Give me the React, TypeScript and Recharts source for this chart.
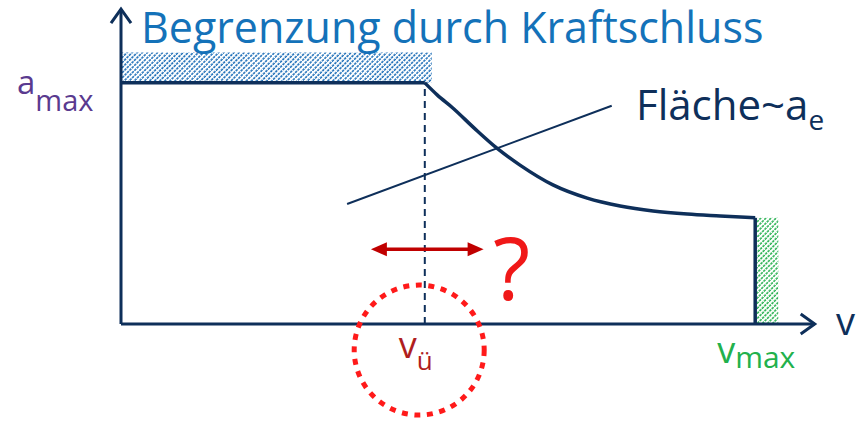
import React from "react";
import {LineChart, Line, XAxis, YAxis, ReferenceArea, ReferenceLine, ReferenceDot} from "recharts";

// flat part at a_max up to v_ü
const flatSpeeds = [0, 43.4];
// falling part from v_ü to v_max
const curveSpeeds = [43.4, 45.2, 47.4, 50.5, 53.7, 57.0, 61.7, 66.6, 71.3, 76.0, 80.9, 85.6, 90.6];
const curveAccels = [76.8, 72.9, 68.8, 62.3, 56.0, 50.6, 44.3, 40.1, 37.6, 36.0, 35.0, 34.4, 33.8];

const vU = 43.4;
const vMax = 90.6;
const aMax = 76.8;
const aEnd = 33.8;
const hatchTop = 86.5;
const hatchRight = 44.4;
const greenRight = 93.9;
const aLineStart = {x: 32.3, y: 38.2};
const aLineEnd = {x: 70.1, y: 69.5};
const arrowFrom = 35.7;
const arrowTo = 51.8;
const arrowLevel = 23.8;
const circleAt = {x: 42.6, y: -8.3};
const xAxisEnd = 99.1;
const yAxisEnd = 100.3;

const xTicks = [vU, vMax];
const yTicks = [aMax];

const flatData = flatSpeeds.map(v => ({v, a: aMax}));
const curveData = curveSpeeds.map((v, i) => ({v, a: curveAccels[i]}));
const dropData = [{v: vMax, a: aEnd}, {v: vMax, a: 0}];

const NAVY = "#0e2f5a";
const FONT = "'Open Sans', sans-serif";

const ArrowAxis = (props: any) => {
    const {x1, y1, x2, y2} = props;
    const horiz = Math.abs(y2 - y1) < 1;
    const arms = horiz
        ? `${x2 - 14},${y2 - 10} ${x2},${y2} ${x2 - 14},${y2 + 10}`
        : `${x2 - 10},${y2 + 14} ${x2},${y2} ${x2 + 10},${y2 + 14}`;
    return (
        <g>
            <line x1={x1} y1={y1} x2={x2} y2={y2} stroke={NAVY} strokeWidth={3}/>
            <polyline points={arms} fill="none" stroke={NAVY} strokeWidth={3}/>
        </g>
    );
};

const DoubleArrow = (props: any) => {
    const {x1, y1, x2} = props;
    const c = "#c00000";
    return (
        <g>
            <line x1={x1 + 12} y1={y1} x2={x2 - 12} y2={y1} stroke={c} strokeWidth={3.5}/>
            <polygon points={`${x1},${y1} ${x1 + 16},${y1 - 7} ${x1 + 16},${y1 + 7}`} fill={c}/>
            <polygon points={`${x2},${y1} ${x2 - 16},${y1 - 7} ${x2 - 16},${y1 + 7}`} fill={c}/>
        </g>
    );
};

const XTick = (props: any) => {
    const {x, y, payload} = props;
    if (payload.value === vMax) {
        return (
            <text x={x - 38} y={y + 39} fontFamily={FONT} fill="#22b14c" fontSize={36}>
                v<tspan fontSize={30} dy={5}>max</tspan>
            </text>
        );
    }
    return (
        <text x={x - 26} y={y + 34} fontFamily={FONT} fill="#b01e1e" fontSize={36}>
            v<tspan fontSize={26} dy={12}>ü</tspan>
        </text>
    );
};

const YTick = (props: any) => {
    const {x, y} = props;
    return (
        <text x={x - 104} y={y + 11} fontFamily={FONT} fill="#5a3a8f" fontSize={33}>
            a<tspan fontSize={29} dy={17}>max</tspan>
        </text>
    );
};

export default function App() {
    return (
        <div style={{position: "absolute", left: 0, top: 0, background: "#fff"}}>
            <LineChart width={859} height={421} margin={{top: 10, right: 38, bottom: 0, left: 0}}>
                <defs>
                    <pattern id="hatchBlue" width="3.6" height="3.4" patternUnits="userSpaceOnUse"
                             patternTransform="rotate(45)">
                        <line x1="1" y1="0" x2="1" y2="3.4" stroke="#1468b4" strokeWidth="1.5" strokeDasharray="2.6 0.8"/>
                    </pattern>
                    <pattern id="hatchGreen" width="3.6" height="3.4" patternUnits="userSpaceOnUse"
                             patternTransform="rotate(45)">
                        <line x1="1" y1="0" x2="1" y2="3.4" stroke="#1fae4a" strokeWidth="1.5" strokeDasharray="2.6 0.8"/>
                    </pattern>
                </defs>
                <XAxis dataKey="v" type="number" domain={[0, 100]} allowDataOverflow ticks={xTicks}
                       axisLine={false} tickLine={false} tickSize={0} tickMargin={0} height={97}
                       tick={<XTick/>} interval={0}/>
                <YAxis dataKey="a" type="number" domain={[0, 100]} allowDataOverflow ticks={yTicks}
                       axisLine={false} tickLine={false} tickSize={0} tickMargin={0} width={121}
                       tick={<YTick/>} interval={0}/>
                <ReferenceArea x1={0} x2={hatchRight} y1={aMax} y2={hatchTop} fill="url(#hatchBlue)"
                               fillOpacity={1} stroke="none" ifOverflow="visible"/>
                <ReferenceArea x1={vMax} x2={greenRight} y1={0} y2={aEnd}
                               fill="url(#hatchGreen)" fillOpacity={1} stroke="none" ifOverflow="visible"/>
                <ReferenceLine segment={[{x: 0, y: 0}, {x: xAxisEnd, y: 0}]} ifOverflow="visible" shape={ArrowAxis}/>
                <ReferenceLine segment={[{x: 0, y: 0}, {x: 0, y: yAxisEnd}]} ifOverflow="visible" shape={ArrowAxis}/>
                <ReferenceLine segment={[{x: vU, y: 0}, {x: vU, y: aMax}]} stroke={NAVY} strokeWidth={2}
                               strokeDasharray="7 5" ifOverflow="visible"/>
                <ReferenceLine segment={[aLineStart, aLineEnd]} stroke={NAVY} strokeWidth={2} ifOverflow="visible"/>
                <ReferenceLine segment={[{x: arrowFrom, y: arrowLevel}, {x: arrowTo, y: arrowLevel}]}
                               ifOverflow="visible" shape={DoubleArrow}/>
                <ReferenceDot x={circleAt.x} y={circleAt.y} r={65} fill="none" stroke="#ff1a1a" strokeWidth={5}
                              strokeDasharray="6 6.6" ifOverflow="visible"/>
                <Line data={flatData} dataKey="a" type="linear" stroke={NAVY} strokeWidth={3.5} dot={false}
                      isAnimationActive={false}/>
                <Line data={curveData} dataKey="a" type="monotoneX" stroke={NAVY} strokeWidth={3.5} dot={false}
                      isAnimationActive={false}/>
                <Line data={dropData} dataKey="a" type="linear" stroke={NAVY} strokeWidth={3.5} dot={false}
                      isAnimationActive={false}/>
                <text x={141} y={43} fontFamily={FONT} fontSize={43} fill="#1472b9">Begrenzung durch Kraftschluss</text>
                <text x={636} y={120} fontFamily={FONT} fontSize={42} fill={NAVY}>
                    Fläche~a<tspan fontSize={28} dy={10}>e</tspan>
                </text>
                <text x={836} y={335} fontFamily={FONT} fontSize={38} fill={NAVY}>v</text>
                <text x={493} y={300} fontFamily={FONT} fontSize={86} fill="#f01818">?</text>
            </LineChart>
        </div>
    );
}
